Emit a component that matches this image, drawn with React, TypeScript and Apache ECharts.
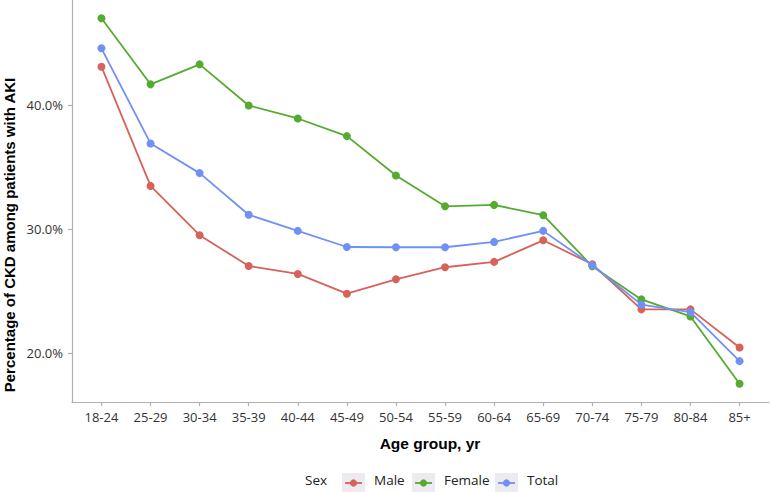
import React, { useEffect, useRef } from "react";
import * as echarts from "echarts";

const categories = ["18-24", "25-29", "30-34", "35-39", "40-44", "45-49", "50-54", "55-59", "60-64", "65-69", "70-74", "75-79", "80-84", "85+"];
const male = [43.09, 33.49, 29.52, 27.04, 26.4, 24.81, 25.97, 26.94, 27.37, 29.11, 27.18, 23.55, 23.55, 20.48];
const female = [46.99, 41.67, 43.28, 39.97, 38.92, 37.5, 34.33, 31.85, 31.96, 31.13, 27.02, 24.35, 22.98, 17.56];
const total = [44.57, 36.91, 34.52, 31.17, 29.87, 28.57, 28.55, 28.55, 28.98, 29.87, 27.1, 23.93, 23.33, 19.38];
const seriesNames = ["Male", "Female", "Total"];
const seriesColors = ["#D6625A", "#55AB30", "#7090F5"];
const yTicks = [20, 30, 40];
const legendTitle = "Sex";
const xTitle = "Age group, yr";
const yTitle = "Percentage of CKD among patients with AKI";

const tickFont = "'Open Sans', 'Noto Sans', sans-serif";
const titleFont = "'Liberation Sans', Arial, sans-serif";

export default function App() {
  const ref = useRef<HTMLDivElement>(null);
  useEffect(() => {
    if (!ref.current) return;
    const chart = echarts.init(ref.current, undefined, { renderer: "svg" });
    const all = [...male, ...female, ...total];
    const lo = Math.min(...all);
    const hi = Math.max(...all);
    const pad = (hi - lo) * 0.05;
    const xIdx = categories.map((_, i) => i);
    const datasets = [male, female, total];

    const legendBoxX = [342, 412, 495];
    const legendTextX = [374, 444, 527];
    const legendY = 483;
    const graphics: any[] = [
      {
        type: "text",
        x: 430,
        y: 443,
        style: { text: xTitle, font: `bold 15.5px ${titleFont}`, fill: "#000", align: "center", verticalAlign: "middle" },
      },
      {
        type: "text",
        x: 9,
        y: 235,
        rotation: Math.PI / 2,
        style: { text: yTitle, font: `bold 15px ${titleFont}`, fill: "#000", align: "center", verticalAlign: "middle" },
      },
      {
        type: "text",
        left: 305,
        top: legendY - 10,
        style: { text: legendTitle, font: `13.5px ${tickFont}`, fill: "#222" },
      },
    ];
    seriesNames.forEach((name, i) => {
      const bx = legendBoxX[i];
      graphics.push(
        { type: "rect", shape: { x: bx, y: legendY - 10, width: 23, height: 20 }, style: { fill: "#EDEBF0" } },
        { type: "line", shape: { x1: bx + 3, y1: legendY, x2: bx + 20, y2: legendY }, style: { stroke: seriesColors[i], lineWidth: 1.8 } },
        { type: "circle", shape: { cx: bx + 11.5, cy: legendY, r: 3.6 }, style: { fill: seriesColors[i] } },
        {
          type: "text",
          left: legendTextX[i],
          top: legendY - 10,
          style: { text: name, font: `13.5px ${tickFont}`, fill: "#222" },
        }
      );
    });

    chart.setOption({
      animation: false,
      grid: { left: 72, right: 1, top: 0, bottom: 90, containLabel: false, outerBoundsMode: "none" },
      xAxis: {
        type: "value",
        min: -0.6,
        max: categories.length - 1 + 0.6,
        axisLine: { show: true, onZero: false, lineStyle: { color: "#B0B0B0", width: 1.2 } },
        axisTick: { show: true, length: 4, lineStyle: { color: "#B0B0B0", width: 1.2 }, customValues: xIdx },
        axisLabel: {
          customValues: xIdx,
          margin: 8,
          color: "#333",
          fontSize: 13,
          fontFamily: tickFont,
          formatter: (v: number) => categories[Math.round(v)] ?? "",
        },
        splitLine: { show: false },
      },
      yAxis: {
        type: "value",
        min: lo - pad,
        max: hi + pad,
        axisLine: { show: true, onZero: false, lineStyle: { color: "#B0B0B0", width: 1.2 } },
        axisTick: { show: true, length: 4, lineStyle: { color: "#B0B0B0", width: 1.2 }, customValues: yTicks },
        axisLabel: {
          customValues: yTicks,
          margin: 9,
          color: "#333",
          fontSize: 13,
          fontFamily: tickFont,
          formatter: (v: number) => v.toFixed(1) + "%",
        },
        splitLine: { show: false },
      },
      series: datasets.map((d, i) => ({
        type: "line",
        name: seriesNames[i],
        data: d.map((v, j) => [j, v]),
        symbol: "circle",
        symbolSize: 8,
        showSymbol: true,
        lineStyle: { color: seriesColors[i], width: 1.8 },
        itemStyle: { color: seriesColors[i] },
        emphasis: { disabled: true },
        z: 2 + (i === 1 ? 0 : i),
      })),
      graphic: graphics,
    });
    return () => chart.dispose();
  }, []);
  return <div ref={ref} style={{ width: 770, height: 492, position: "absolute", left: 0, top: 0 }} />;
}
